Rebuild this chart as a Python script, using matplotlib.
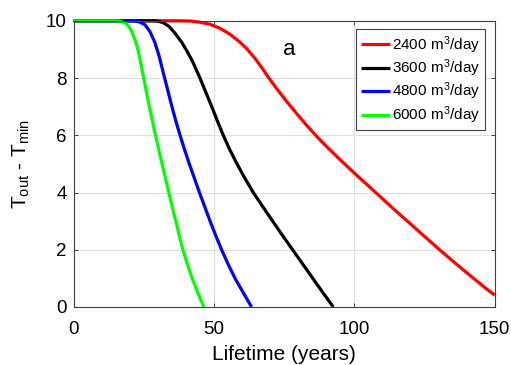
import matplotlib
matplotlib.use("Agg")
import matplotlib.pyplot as plt

# Lifetime (years) vs T_out - T_min
x_2400 = [0, 38, 42, 45, 48.6, 52.1, 55.7, 59.3, 62, 64.5, 67, 69.4, 72.5,
          76, 79.5, 83, 86.7, 90.5, 95, 100, 104, 108.5, 113.5, 119, 124.5,
          130.5, 136, 141.5, 146, 150]
y_2400 = [10, 10, 9.99, 9.95, 9.88, 9.74, 9.53, 9.25, 8.99, 8.7, 8.37, 8.02,
          7.61, 7.17, 6.75, 6.35, 5.95, 5.57, 5.14, 4.68, 4.32, 3.92, 3.47,
          2.99, 2.51, 1.99, 1.53, 1.08, 0.72, 0.41]

x_3600 = [0, 28, 30, 32, 34, 36, 38.5, 40.5, 42.5, 45, 47.1, 49.2, 51.2, 53.3,
          55.6, 58.2, 61.0, 64.0, 67.4, 70.9, 74.4, 78.0, 81.6, 85.2, 88.8,
          92.5]
y_3600 = [10, 10, 9.99, 9.93, 9.8, 9.58, 9.25, 8.92, 8.55, 8.0, 7.5, 7.0, 6.5,
          6.0, 5.5, 5.0, 4.5, 4.0, 3.5, 3.0, 2.5, 2.0, 1.5, 1.0, 0.5, 0]

x_4800 = [0, 20, 22, 23.5, 25.4, 27.2, 28.9, 30.4, 31.5, 32.5, 33.7, 35.0,
          36.4, 37.9, 39.5, 41.2, 43.0, 44.8, 46.7, 48.6, 50.6, 52.7, 55.0,
          57.5, 60.4, 63.4]
y_4800 = [10, 10, 9.99, 9.96, 9.86, 9.62, 9.25, 8.78, 8.35, 7.96, 7.5, 7.0,
          6.5, 6.0, 5.5, 5.0, 4.5, 4.0, 3.5, 3.0, 2.5, 2.0, 1.5,
          1.0, 0.5, 0]

x_6000 = [0, 15, 16.5, 17.6, 18.6, 19.5, 20.4, 21.2, 22.0, 22.9, 23.9, 24.9,
          25.9, 26.9, 28.0, 29.1, 30.3, 31.5, 32.7, 33.9, 35.1, 36.4, 37.6,
          38.9, 40.5, 42.2, 44.2, 46.4]
y_6000 = [10, 10, 9.99, 9.96, 9.9, 9.82, 9.68, 9.5, 9.28, 9.0, 8.52, 8.02,
          7.52, 7.03, 6.52, 6.02, 5.5, 5.0, 4.5, 4.0, 3.5, 3.0, 2.5,
          2.0, 1.5, 1.0, 0.5, 0]

series = [
    (x_2400, y_2400, "#ff0000", "2400 m$^3$/day"),
    (x_3600, y_3600, "#000000", "3600 m$^3$/day"),
    (x_4800, y_4800, "#0000ff", "4800 m$^3$/day"),
    (x_6000, y_6000, "#00ff00", "6000 m$^3$/day"),
]

x_ticks = [0, 50, 100, 150]
y_ticks = [0, 2, 4, 6, 8, 10]

plt.rcParams["font.family"] = ["Liberation Sans", "DejaVu Sans"]
plt.rcParams["mathtext.fontset"] = "custom"
plt.rcParams["mathtext.rm"] = "Liberation Sans"
plt.rcParams["mathtext.it"] = "Liberation Sans:italic"
plt.rcParams["mathtext.bf"] = "Liberation Sans:bold"

fig = plt.figure(figsize=(5.11, 3.65), dpi=100)
ax = fig.add_axes([0.1442, 0.159, 0.8238, 0.784])

for xs, ys, color, label in series:
    ax.plot(xs, ys, color=color, linewidth=2.3, label=label, clip_on=False,
            solid_joinstyle="round", solid_capstyle="butt")

ax.set_xlim(0, 150)
ax.set_ylim(0, 10)
ax.set_xticks(x_ticks)
ax.set_yticks(y_ticks)
ax.grid(True, color="#dedede", linewidth=0.8)
ax.set_axisbelow(True)

spine_color = "#404040"
for s in ax.spines.values():
    s.set_color(spine_color)
    s.set_linewidth(0.8)
ax.tick_params(direction="in", top=True, right=True, length=3,
               width=0.7, color=spine_color, labelsize=13.5)
ax.tick_params(axis="x", pad=10)
ax.tick_params(axis="y", pad=5)

ax.set_xlabel("Lifetime (years)", fontsize=15, labelpad=5)
ax.set_ylabel(r"T$_{\mathrm{out}}$ - T$_{\mathrm{min}}$", fontsize=15)
ax.yaxis.set_label_coords(-0.099, 0.5)

ax.text(76.8, 9.0, "a", fontsize=16, ha="center", va="center")

leg = ax.legend(loc="upper right", bbox_to_anchor=(0.9772, 0.97),
                borderaxespad=0, fontsize=11, fancybox=False, framealpha=1,
                edgecolor=spine_color, handlelength=1.9, handletextpad=0.15,
                labelspacing=0.12, borderpad=0.3)
leg.get_frame().set_linewidth(0.8)

fig.savefig("out.png", dpi=100)
